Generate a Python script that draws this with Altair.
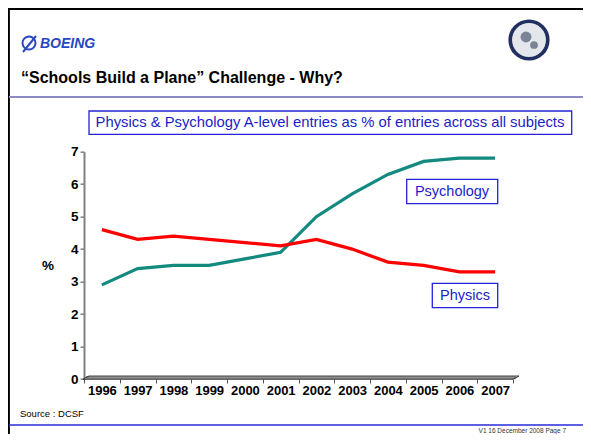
import altair as alt
import pandas as pd

years = ["1996", "1997", "1998", "1999", "2000", "2001", "2002", "2003", "2004", "2005", "2006", "2007"]
psychology = [2.9, 3.4, 3.5, 3.5, 3.7, 3.9, 5.0, 5.7, 6.3, 6.7, 6.8, 6.8]
physics = [4.6, 4.3, 4.4, 4.3, 4.2, 4.1, 4.3, 4.0, 3.6, 3.5, 3.3, 3.3]
y_ticks = [0, 1, 2, 3, 4, 5, 6, 7]

title_text = "\u201cSchools Build a Plane\u201d Challenge - Why?"
subtitle_text = "Physics & Psychology A-level entries as % of entries across all subjects"
source_text = "Source : DCSF"
footer_text = "V1 16 December 2008   Page 7"

FONT = "Liberation Sans"
BLUE_TXT = "#1c1cc8"
BLUE_BOX = "#2424d6"

df = pd.DataFrame(
    {"year": years * 2,
     "value": psychology + physics,
     "subject": ["Psychology"] * len(years) + ["Physics"] * len(years)}
)

# page -> plot-area coordinates
OX, OY = 84.0, 151.7
W, H = 429.0, 227.3


def X(p):
    return p - OX


def Y(p):
    return p - OY


one = pd.DataFrame({"k": [0]})


def text(t, x, y, size, weight="normal", color="black", align="left", style="normal", baseline="middle"):
    return alt.Chart(one).mark_text(
        text=t, font=FONT, fontSize=size, fontWeight=weight, color=color,
        align=align, baseline=baseline, fontStyle=style
    ).encode(x=alt.value(X(x)), y=alt.value(Y(y)))


def rule(x1, y1, x2, y2, color, width):
    return alt.Chart(one).mark_rule(color=color, strokeWidth=width).encode(
        x=alt.value(X(x1)), x2=alt.value(X(x2)), y=alt.value(Y(y1)), y2=alt.value(Y(y2))
    )


def box(x1, y1, x2, y2, stroke, fill="white", width=1.3):
    return alt.Chart(one).mark_rect(stroke=stroke, strokeWidth=width, fill=fill).encode(
        x=alt.value(X(x1)), x2=alt.value(X(x2)), y=alt.value(Y(y1)), y2=alt.value(Y(y2))
    )


def dot(x, y, size, fill, stroke=None, sw=0, filled=True):
    kw = dict(shape="circle", size=size, filled=filled, opacity=1)
    if filled:
        kw["fill"] = fill
    if stroke:
        kw["stroke"] = stroke
        kw["strokeWidth"] = sw
    return alt.Chart(one).mark_point(**kw).encode(x=alt.value(X(x)), y=alt.value(Y(y)))


lines = alt.Chart(df).mark_line(strokeWidth=3.2).encode(
    x=alt.X("year:O", sort=years,
            scale=alt.Scale(type="band", paddingInner=0, paddingOuter=0),
            axis=alt.Axis(tickBand="extent", labelAngle=0, domain=False, ticks=True,
                          tickColor="#555555", tickSize=4, tickWidth=1,
                          labelFont=FONT, labelFontSize=13, labelFontWeight="bold",
                          labelColor="black", labelPadding=1, title=None, grid=False)),
    y=alt.Y("value:Q", scale=alt.Scale(domain=[0, 7], nice=False, zero=True),
            axis=alt.Axis(values=y_ticks, domainColor="#808080", domainWidth=2,
                          tickColor="#808080", tickSize=4, tickWidth=1.5,
                          labelFont=FONT, labelFontSize=13.5, labelFontWeight="bold",
                          labelColor="black", labelPadding=2, title=None, grid=False)),
    color=alt.Color("subject:N",
                    scale=alt.Scale(domain=["Psychology", "Physics"], range=["#138a80", "#ff0000"]),
                    legend=None),
)

# 3-D floor
floor_fill = alt.Chart(one).mark_rect(fill="#8f8f8f").encode(
    x=alt.value(X(86)), x2=alt.value(X(516)), y=alt.value(Y(376)), y2=alt.value(Y(379.2))
)
floor = [
    floor_fill,
    rule(83, 379.2, 513, 379.2, "#333333", 1),
    rule(89, 376, 519, 376, "#444444", 1),
    rule(83, 379.2, 89, 376, "#333333", 1),
    rule(513, 379.2, 519, 376, "#333333", 1),
]

deco = [
    # frame
    rule(8.8, 0, 8.8, 460, "black", 2.2),
    rule(0, 8.8, 600, 8.8, "black", 2.2),
    # title separator and footer line
    rule(9, 97, 600, 97, "#8c8cc4", 2),
    rule(9, 425, 600, 425, "#2a2ad8", 1.5),
    # Boeing logo
    dot(29, 43, 170, None, stroke="#2848c0", sw=2, filled=False),
    rule(23, 52, 36, 36, "#2848c0", 2),
    text("BOEING", 40, 43.5, 14, weight="bold", color="#2848c0", style="italic"),
    # seal
    dot(529, 40, 1700, "#1f2f5f"),
    dot(529, 40, 1150, "#e3e7ec"),
    dot(526, 37, 120, "#7a8496"),
    dot(534, 45, 60, "#7a8496"),
    # title
    text(title_text, 21, 78, 16, weight="bold"),
    # subtitle box
    box(89, 111, 571.7, 134.3, BLUE_BOX),
    text(subtitle_text, 330, 123, 14.8, color=BLUE_TXT, align="center"),
    # series labels
    box(406.7, 179.3, 497.7, 203.7, BLUE_BOX),
    text("Psychology", 452, 191.5, 14.5, color=BLUE_TXT, align="center"),
    box(432.3, 283.3, 497.7, 307.7, BLUE_BOX),
    text("Physics", 465, 295.5, 14.5, color=BLUE_TXT, align="center"),
    # axis title
    text("%", 48, 266, 13.5, weight="bold", align="center"),
    # source and footer
    text(source_text, 20, 414, 9.5),
    text(footer_text, 566, 431, 6.5, color="#333333", align="right"),
]

chart = alt.layer(*floor, lines, *deco).properties(
    width=W, height=H,
    autosize=alt.AutoSizeParams(type="none"),
    padding={"left": 76, "top": 143.7, "right": 70, "bottom": 55},
    background="white",
).configure_view(stroke=None)

chart.save("out.html", embed_options={"renderer": "svg", "actions": False})
